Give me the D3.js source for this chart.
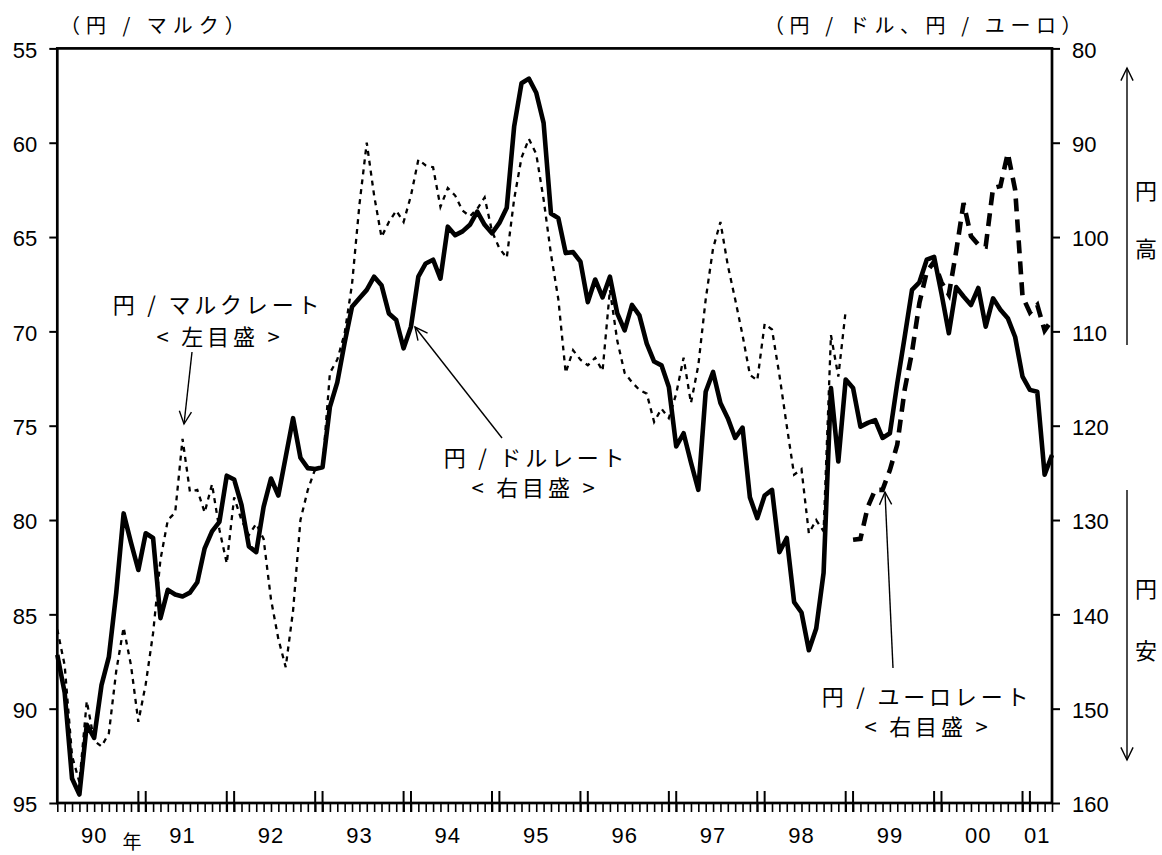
<!DOCTYPE html>
<html><head><meta charset="utf-8">
<script src="https://cdn.jsdelivr.net/npm/d3@7"></script>
<style>
body{margin:0;background:#fff;}
svg{display:block;background:#fff;}
.num{font-family:"Liberation Sans",Arial,sans-serif;font-size:22px;fill:#000;}
.jp{font-family:"Noto Sans CJK JP",sans-serif;fill:#000;}
</style></head><body>
<svg id="c" width="1162" height="855"></svg>
<script>
// ---- categories ----
const years = ["90","91","92","93","94","95","96","97","98","99","00","01"];
const monthsInYear = [12,12,12,12,12,12,12,12,12,12,12,4];
const categories = years.flatMap((y,i)=>d3.range(1, monthsInYear[i]+1).map(m=>y+"/"+m));

// ---- tick labels ----
const leftTicks = [55,60,65,70,75,80,85,90,95];
const rightTicks = [80,90,100,110,120,130,140,150,160];

// ---- series: yen/dollar (right scale), 90/1 - 01/4 ----
const usdJpy = [
 144.3,148.3,157.4,159.1,151.7,153.1,147.5,144.5,137.7,129.3,132.4,135.3,
 131.4,131.9,140.4,137.4,137.9,138.1,137.7,136.6,133.0,131.2,130.2,125.3,
 125.7,128.4,132.8,133.4,128.6,125.6,127.4,123.3,119.2,123.4,124.5,124.6,
 124.4,118.0,115.4,111.2,107.4,106.5,105.6,104.2,105.1,108.1,108.8,111.8,
 109.5,104.2,102.8,102.4,104.4,98.9,99.8,99.4,98.7,97.3,98.7,99.6,
 98.5,96.9,88.3,83.7,83.2,84.7,87.9,97.5,98.0,101.7,101.6,102.6,
 106.9,104.5,106.4,104.2,108.1,109.9,107.2,108.3,111.3,113.2,113.6,115.9,
 122.2,120.8,123.9,126.8,116.4,114.3,117.6,119.2,121.3,120.2,127.6,129.8,
 127.4,126.8,133.4,131.9,138.7,139.8,143.8,141.5,135.6,116.0,123.8,115.1,
 116.0,120.1,119.7,119.4,121.3,120.8,115.5,110.6,105.6,104.8,102.4,102.1,
 106.0,110.2,105.3,106.3,107.2,105.4,109.5,106.5,107.7,108.6,110.6,114.8,
 116.2,116.4,125.2,123.1
];
// ---- series: yen/mark (left scale), 90/1 - 98/12 ----
const jpyDem = [
 85.8,87.7,92.5,93.9,89.6,91.7,92.0,91.3,88.0,85.7,87.7,90.7,
 88.7,86.0,82.1,80.0,79.6,75.7,78.5,78.4,79.6,78.1,80.5,82.3,
 78.8,80.0,80.8,80.2,81.0,84.2,86.3,87.8,84.8,80.0,78.4,77.3,
 77.2,72.2,71.5,70.1,67.5,63.3,60.0,62.8,65.0,64.2,63.6,64.2,
 62.8,60.9,61.2,61.3,63.4,62.4,62.8,63.6,63.9,63.5,62.9,64.7,
 65.6,66.1,63.0,60.8,59.8,60.6,63.0,65.9,68.3,72.2,71.0,71.5,
 71.8,71.4,72.1,67.8,70.5,72.2,72.7,73.1,73.3,74.8,74.1,74.6,
 73.3,71.4,73.8,71.8,68.3,65.6,64.2,66.5,68.3,70.2,72.3,72.6,
 69.6,69.9,72.3,75.0,77.6,77.3,80.7,80.0,80.6,70.2,72.4,68.9
];
// ---- series: yen/euro (right scale), 99/1 - 01/4 ----
const eurJpy = [
 132.1,132.0,128.6,126.8,126.8,124.7,122.0,116.2,112.2,107.0,103.7,102.6,
 104.8,106.1,101.5,96.4,99.9,100.8,101.0,94.8,94.6,91.1,95.0,106.3,
 108.0,107.2,109.9,108.8
];
const demStart = categories.indexOf("90/1");
const eurStart = categories.indexOf("99/1");

const svg = d3.select("#c");
const L = 57.3, R = 1052, T = 48.4, B = 803;

const x = d3.scaleLinear().domain([0, categories.length-1]).range([L, R]);
const yL = d3.scaleLinear().domain([55,95]).range([T, B]);
const yR = d3.scaleLinear().domain([80,160]).range([T, B]);

// ---- left axis ----
const gL = svg.append("g").attr("transform",`translate(${L},0)`)
  .call(d3.axisLeft(yL).tickValues(leftTicks).tickSize(8).tickPadding(12));
gL.select(".domain").remove();
gL.selectAll("line").attr("stroke","#000").attr("stroke-width",2);
gL.selectAll("text").attr("class","num").attr("dy","0.4em").style("font-size","22px").style("font-family",'"Liberation Sans",Arial,sans-serif');

// ---- right axis ----
const gR = svg.append("g").attr("transform",`translate(${R},0)`)
  .call(d3.axisRight(yR).tickValues(rightTicks).tickSize(8).tickPadding(12));
gR.select(".domain").remove();
gR.selectAll("line").attr("stroke","#000").attr("stroke-width",2);
gR.selectAll("text").attr("class","num").attr("dy","0.4em").style("font-size","22px").style("font-family",'"Liberation Sans",Arial,sans-serif');

// ---- bottom axis: monthly ticks ----
const gB = svg.append("g").attr("transform",`translate(0,${B})`)
  .call(d3.axisBottom(x).tickValues(d3.range(categories.length)).tickSize(9).tickFormat(""));
gB.select(".domain").remove();
gB.selectAll("line").attr("stroke","#000").attr("stroke-width",1.6);

// year boundary double ticks (Dec & Jan)
const yearMarks = [];
categories.forEach((c,i)=>{
  const m = +c.split("/")[1];
  if ((m===12 && i<categories.length-1) || (m===1 && i>0)) yearMarks.push(i);
});
svg.append("g").selectAll("line").data(yearMarks).join("line")
  .attr("x1",d=>x(d)).attr("x2",d=>x(d)).attr("y1",B-12).attr("y2",B+9)
  .attr("stroke","#000").attr("stroke-width",2);

// year labels
const yearLabelData = years.map(y=>{
  const idx = categories.map((c,i)=>c.startsWith(y+"/")?i:-1).filter(i=>i>=0);
  return {y, pos:(idx[0]+idx[idx.length-1])/2 - 0.5};
});
svg.append("g").selectAll("text").data(yearLabelData).join("text")
  .attr("class","num").attr("x",d=>x(d.pos)).attr("y",843)
  .attr("text-anchor","middle").style("letter-spacing","1px").text(d=>d.y);
svg.append("text").attr("class","jp").attr("x",132).attr("y",849)
  .attr("text-anchor","middle").style("font-size","19px").text("年");

// ---- frame ----
svg.append("rect").attr("x",L).attr("y",T).attr("width",R-L).attr("height",B-T)
  .attr("fill","none").attr("stroke","#000").attr("stroke-width",2.7);

// ---- lines ----
const lineR = off => d3.line().x((d,i)=>x(i+off)).y(d=>yR(d));
const lineLft = off => d3.line().x((d,i)=>x(i+off)).y(d=>yL(d));

svg.append("path").datum(jpyDem).attr("d",lineLft(demStart))
  .attr("fill","none").attr("stroke","#000").attr("stroke-width",2.3)
  .attr("stroke-dasharray","5,5");
svg.append("path").datum(usdJpy).attr("d",lineR(0))
  .attr("fill","none").attr("stroke","#000").attr("stroke-width",4.6)
  .attr("stroke-linejoin","round");
svg.append("path").datum(eurJpy).attr("d",lineR(eurStart))
  .attr("fill","none").attr("stroke","#000").attr("stroke-width",4.6)
  .attr("stroke-dasharray","13,8");

// ---- titles ----
svg.append("text").attr("class","jp").attr("x",60).attr("y",33)
  .style("font-size","20px").style("letter-spacing","6px").text("（円 / マルク）");
svg.append("text").attr("class","jp").attr("x",764).attr("y",33)
  .style("font-size","20px").style("letter-spacing","5.6px").text("（円 / ドル、円 / ユーロ）");

// ---- annotations ----
function arrow(x1,y1,x2,y2){
  const g = svg.append("g").attr("stroke","#000").attr("fill","none").attr("stroke-width",1.4);
  g.append("line").attr("x1",x1).attr("y1",y1).attr("x2",x2).attr("y2",y2);
  const a = Math.atan2(y2-y1,x2-x1), len=14, w=0.45;
  const p1=[x2-len*Math.cos(a-w), y2-len*Math.sin(a-w)];
  const p2=[x2-len*Math.cos(a+w), y2-len*Math.sin(a+w)];
  g.append("path").attr("d",`M${p1}L${x2},${y2}L${p2}`);
}
function label(cx, y, txt){
  svg.append("text").attr("class","jp").attr("x",cx).attr("y",y)
    .attr("text-anchor","middle").style("font-size","22px").style("letter-spacing","3.8px").text(txt);
}
label(218,313,"円 / マルクレート");
label(220,345,"< 左目盛 >");
arrow(192,352,184,424);

label(536,466,"円 / ドルレート");
label(535,496,"< 右目盛 >");
arrow(502,438,415,327);

label(927,705,"円 / ユーロレート");
label(928,735,"< 右目盛 >");
arrow(893,668,885,492);

// right side direction arrows
arrow(1127,345,1127,68);
arrow(1127,490,1127,760);
[["円",199],["高",257],["円",597],["安",659]].forEach(([t,yy])=>{
  svg.append("text").attr("class","jp").attr("x",1146).attr("y",yy)
    .attr("text-anchor","middle").style("font-size","22px").text(t);
});
</script>
</body></html>
